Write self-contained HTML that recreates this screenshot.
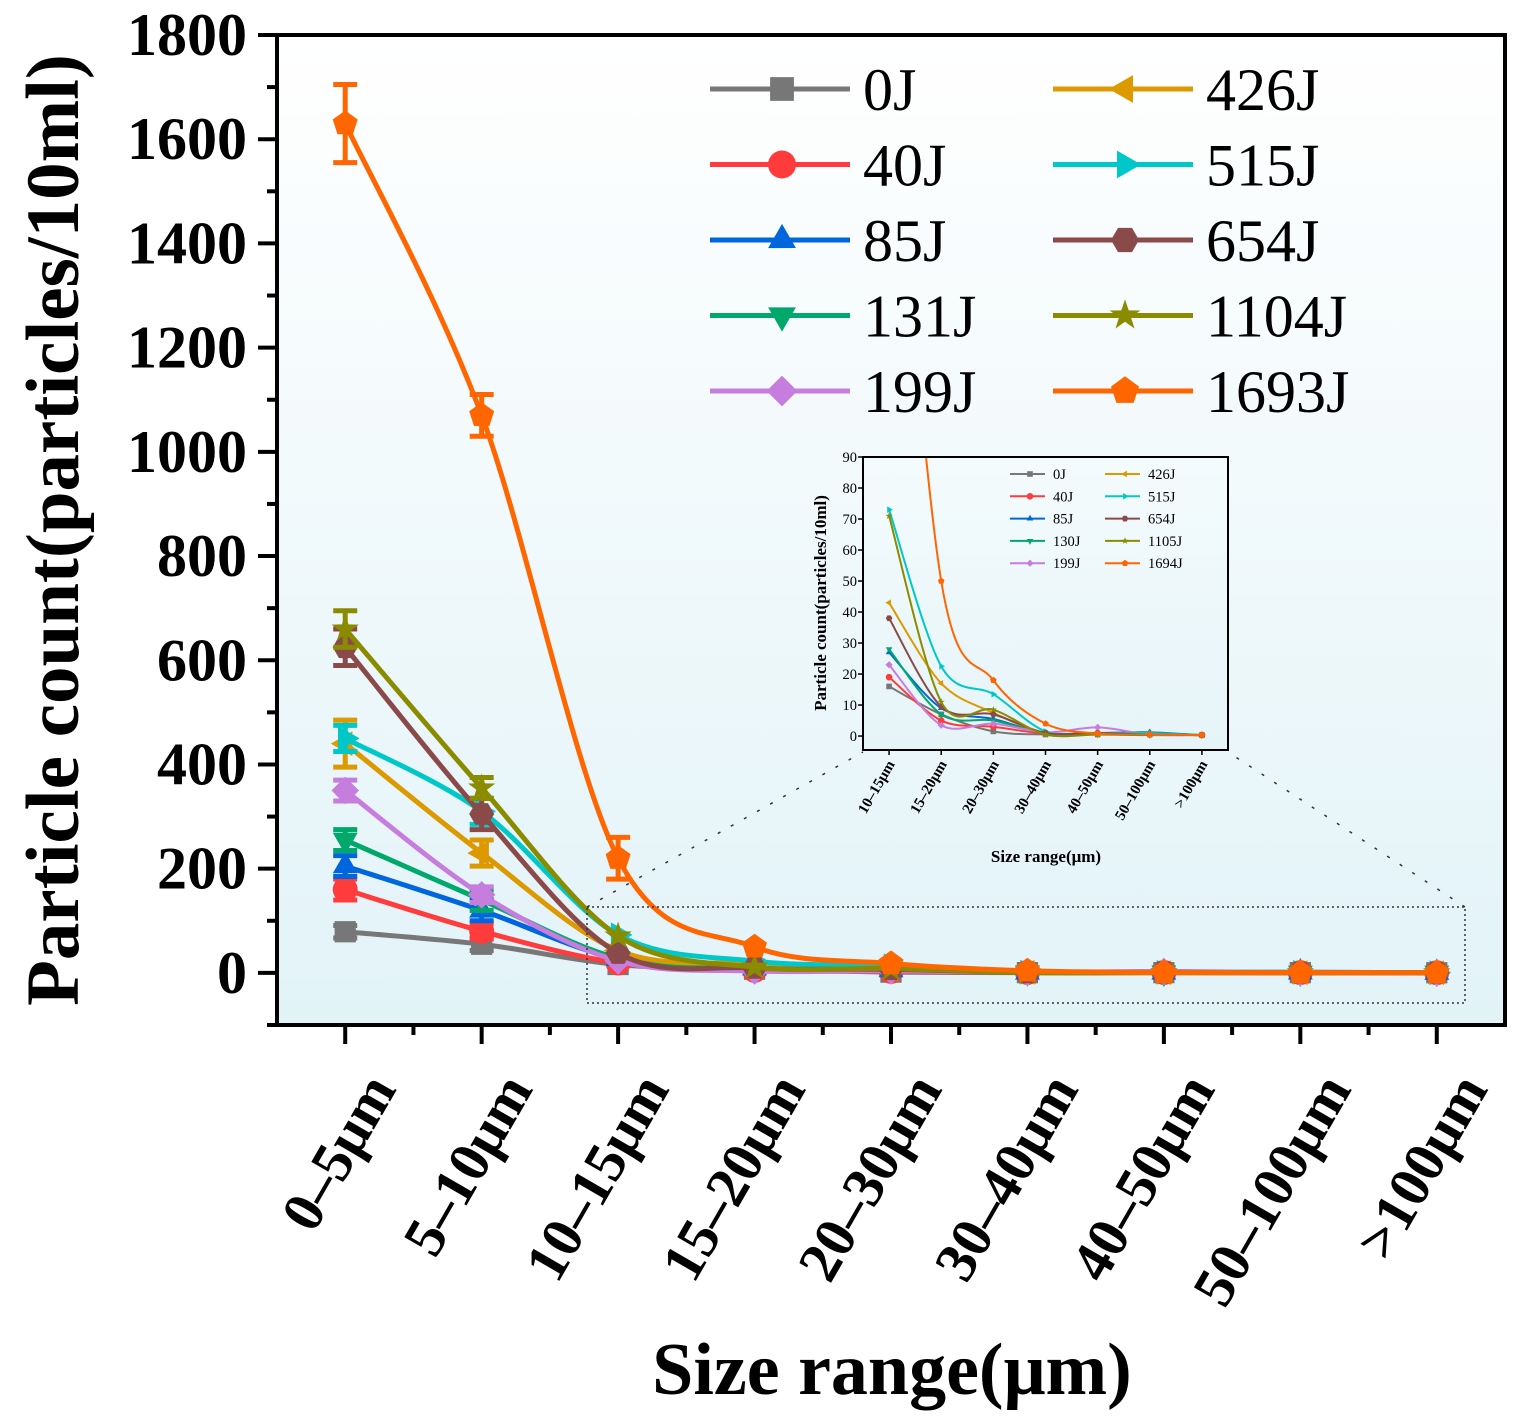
<!DOCTYPE html>
<html><head><meta charset="utf-8">
<style>
html,body{margin:0;padding:0;background:#fff;}
svg{display:block;font-family:"Liberation Serif",serif;}
</style></head>
<body>
<svg id="c" width="1526" height="1426" viewBox="0 0 1526 1426" xmlns="http://www.w3.org/2000/svg">
<defs>
<linearGradient id="bg" x1="0" y1="0" x2="0" y2="1">
<stop offset="0" stop-color="#ffffff"/><stop offset="1" stop-color="#e2f3f8"/>
</linearGradient>
<linearGradient id="bg2" x1="0" y1="0" x2="0" y2="1">
<stop offset="0" stop-color="#f4fbfd"/><stop offset="1" stop-color="#e6f4f8"/>
</linearGradient>
</defs>
</svg>
<script>
const categories=["0–5μm","5–10μm","10–15μm","15–20μm","20–30μm","30–40μm","40–50μm","50–100μm",">100μm"];
const insetCategories=["10–15μm","15–20μm","20–30μm","30–40μm","40–50μm","50–100μm",">100μm"];
const seriesNames=["0J","40J","85J","131J","199J","426J","515J","654J","1104J","1693J"];
const insetNames=["0J","40J","85J","130J","199J","426J","515J","654J","1105J","1694J"];
const s0J=[79,55,16,7,1.5,0.5,0.5,0.5,0.3];
const s40J=[160,80,19,5,3,0.8,0.8,0.5,0.3];
const s85J=[205,120,27,9,5.5,1,1,1.2,0.3];
const s131J=[255,140,28,7,5,1,0.5,0.3,0.3];
const s199J=[350,150,23,3.5,4,1.2,2.8,0.5,0.3];
const s426J=[440,230,43,17,7.5,1,0.5,0.5,0.3];
const s515J=[450,310,73,22.5,13.5,1.5,1,1,0.3];
const s654J=[625,305,38,9.5,7,1,1,0.5,0.3];
const s1104J=[660,355,71,11,8.5,0.5,0.5,0.5,0.3];
const s1693J=[1630,1070,220,50,18,4,0.8,0.5,0.3];
const errors0to3=[[12,12],[20,15],[20,20],[20,20],[20,15],[45,25],[25,25],[35,30],[35,20],[75,40,40]];
const yTicks=[0,200,400,600,800,1000,1200,1400,1600,1800];
const insetYTicks=[0,10,20,30,40,50,60,70,80,90];
const allSeries=[s0J,s40J,s85J,s131J,s199J,s426J,s515J,s654J,s1104J,s1693J];
const colors=["#777777","#ff3b3b","#0066dd","#00a86b","#c77ddd","#dd9900","#00c8c8","#8b4a4a","#8b8b00","#ff6600"];
const shapes=["square","circle","up","down","diamond","left","right","hex","star","pent"];

const svg=document.getElementById('c');
const NS="http://www.w3.org/2000/svg";
function mk(tag,attrs,parent){const e=document.createElementNS(NS,tag);for(const k in attrs)e.setAttribute(k,attrs[k]);(parent||svg).appendChild(e);return e;}

const X0=277,X1=1505,Y0=35,Y1=1025;
const xs=i=>X0+(i+0.5)*(X1-X0)/9;
const ys=v=>Y1-(v+100)*(Y1-Y0)/1900;
const IX0=863,IX1=1228,IY0=457,IY1=750;
const ixs=i=>IX0+(i+0.5)*(IX1-IX0)/7;
const iys=v=>IY1-(v+4.5)*(IY1-IY0)/94.5;

function markerPath(shape,cx,cy,r){
  const pts=(n,rot,rr)=>{let a=[];for(let k=0;k<n;k++){const t=rot+k*2*Math.PI/n;a.push((cx+rr*Math.cos(t)).toFixed(1)+","+(cy+rr*Math.sin(t)).toFixed(1));}return "M"+a.join("L")+"Z";};
  switch(shape){
    case "square":return `M${cx-r*0.85},${cy-r*0.85}h${1.7*r}v${1.7*r}h${-1.7*r}Z`;
    case "circle":return `M${cx-r},${cy}a${r},${r} 0 1,0 ${2*r},0a${r},${r} 0 1,0 ${-2*r},0Z`;
    case "up":return pts(3,-Math.PI/2,r*1.15);
    case "down":return pts(3,Math.PI/2,r*1.15);
    case "diamond":return pts(4,-Math.PI/2,r*1.1);
    case "left":return pts(3,Math.PI,r*1.15);
    case "right":return pts(3,0,r*1.15);
    case "hex":return pts(6,0,r);
    case "pent":return pts(5,-Math.PI/2,r*1.05);
    case "star":{let a=[];for(let k=0;k<10;k++){const t=-Math.PI/2+k*Math.PI/5;const rr=k%2?r*0.45:r*1.15;a.push((cx+rr*Math.cos(t)).toFixed(1)+","+(cy+rr*Math.sin(t)).toFixed(1));}return "M"+a.join("L")+"Z";}
  }
}
function smooth(p){
  let d=`M${p[0][0]},${p[0][1]}`;
  for(let i=0;i<p.length-1;i++){
    const p0=p[i-1]||p[i],p1=p[i],p2=p[i+1],p3=p[i+2]||p2;
    const t=0.16;
    d+=`C${p1[0]+(p2[0]-p0[0])*t},${p1[1]+(p2[1]-p0[1])*t} ${p2[0]-(p3[0]-p1[0])*t},${p2[1]-(p3[1]-p1[1])*t} ${p2[0]},${p2[1]}`;
  }
  return d;
}

const bgm=mk('rect',{x:X0,y:Y0,width:X1-X0,height:Y1-Y0,fill:"url(#bg)"});



allSeries.forEach((s,si)=>{
  const g=mk('g',{});
  
  
  const p=s.map((v,i)=>[xs(i),ys(v)]);
  const ln=mk('path',{d:smooth(p),fill:"none",stroke:colors[si],"stroke-width":5},g);
  
  
  s.forEach((v,i)=>{
    const e=(errors0to3[si][i]);
    if(e){
      const x=xs(i),a=ys(v+e),b=ys(v-e);
      mk('path',{d:`M${x},${a}V${b}M${x-12},${a}h24M${x-12},${b}h24`,stroke:colors[si],"stroke-width":5,fill:"none"},g);
    }
    const m=mk('path',{d:markerPath(shapes[si],xs(i),ys(v),12.5),fill:colors[si]},g);
    
    
  });
});

mk('rect',{x:X0,y:Y0,width:X1-X0,height:Y1-Y0,fill:"none",stroke:"#000","stroke-width":4});

yTicks.forEach(v=>{
  const y=ys(v);
  mk('line',{x1:X0-19,x2:X0,y1:y,y2:y,stroke:"#000","stroke-width":4});
  const t=mk('text',{x:X0-30,y:y+20,"text-anchor":"end","font-size":60,"font-weight":"bold"});
  t.textContent=v;
  
  
  const ym=ys(v-100);
  if(ym<Y1-1) mk('line',{x1:X0-10,x2:X0,y1:ym,y2:ym,stroke:"#000","stroke-width":4});
});
categories.forEach((c,i)=>{
  const x=xs(i);
  mk('line',{x1:x,x2:x,y1:Y1,y2:Y1+19,stroke:"#000","stroke-width":4});
  const xm=x+(X1-X0)/18;
  if(xm<X1-1) mk('line',{x1:xm,x2:xm,y1:Y1,y2:Y1+10,stroke:"#000","stroke-width":4});
  const t=mk('text',{transform:`translate(${x+52},${Y1+64}) rotate(-60)`,"text-anchor":"end","font-size":58,"font-weight":"bold"});
  t.textContent=c;
  
  
});
mk('line',{x1:X0-10,x2:X0,y1:Y1,y2:Y1,stroke:"#000","stroke-width":4});

const yt=mk('text',{transform:"translate(78,530) rotate(-90)","text-anchor":"middle","font-size":75,"font-weight":"bold"});
yt.textContent="Particle count(particles/10ml)";


const xt=mk('text',{x:892,y:1394,"text-anchor":"middle","font-size":74,"font-weight":"bold"});
xt.textContent="Size range(μm)";



const lg=mk('g',{});


seriesNames.forEach((n,si)=>{
  const col=Math.floor(si/5),row=si%5;
  const lx=710+col*343,ly=89+row*75.5;
  const e=mk('g',{},lg);
  
  
  mk('line',{x1:lx,x2:lx+140,y1:ly,y2:ly,stroke:colors[si],"stroke-width":5},e);
  mk('path',{d:markerPath(shapes[si],lx+72,ly,14),fill:colors[si]},e);
  const t=mk('text',{x:lx+153,y:ly+21,"font-size":60},e);
  t.textContent=n;
});

const zr=mk('rect',{x:587,y:907,width:878,height:96,fill:"none",stroke:"#333","stroke-width":1.5,"stroke-dasharray":"2,3"});


mk('line',{x1:587,y1:907,x2:863,y2:752,stroke:"#333","stroke-width":1.5,"stroke-dasharray":"3,12"});
mk('line',{x1:1465,y1:907,x2:1228,y2:752,stroke:"#333","stroke-width":1.5,"stroke-dasharray":"3,12"});

const ig=mk('g',{});


mk('rect',{x:IX0,y:IY0,width:IX1-IX0,height:IY1-IY0,fill:"url(#bg2)"},ig);
const clip=mk('clipPath',{id:"ic"},ig);
mk('rect',{x:IX0,y:IY0,width:IX1-IX0,height:IY1-IY0},clip);
const ic=mk('g',{"clip-path":"url(#ic)"},ig);
allSeries.forEach((s,si)=>{
  const sub=s.slice(2);
  const p=sub.map((v,i)=>[ixs(i),iys(v)]);
  const ln=mk('path',{d:smooth(p),fill:"none",stroke:colors[si],"stroke-width":2},ic);
  
  
  sub.forEach((v,i)=>{mk('path',{d:markerPath(shapes[si],ixs(i),iys(v),3.3),fill:colors[si]},ic);});
});
mk('rect',{x:IX0,y:IY0,width:IX1-IX0,height:IY1-IY0,fill:"none",stroke:"#000","stroke-width":2},ig);
insetYTicks.forEach(v=>{
  const y=iys(v);
  mk('line',{x1:IX0-5,x2:IX0,y1:y,y2:y,stroke:"#000","stroke-width":1.5},ig);
  const t=mk('text',{x:IX0-6,y:y+5,"text-anchor":"end","font-size":14.5},ig);
  t.textContent=v;
});
insetCategories.forEach((c,i)=>{
  const x=ixs(i);
  mk('line',{x1:x,x2:x,y1:IY1,y2:IY1+5,stroke:"#000","stroke-width":1.5},ig);
  const t=mk('text',{transform:`translate(${x+6},${IY1+14}) rotate(-60)`,"text-anchor":"end","font-size":15,"font-weight":"bold"},ig);
  t.textContent=c;
});
const iyt=mk('text',{transform:"translate(826,603) rotate(-90)","text-anchor":"middle","font-size":17,"font-weight":"bold"},ig);
iyt.textContent="Particle count(particles/10ml)";
const ixt=mk('text',{x:1046,y:862,"text-anchor":"middle","font-size":17,"font-weight":"bold"},ig);
ixt.textContent="Size range(μm)";
insetNames.forEach((n,si)=>{
  const col=Math.floor(si/5),row=si%5;
  const lx=1010+col*95,ly=474+row*22.3;
  const e=mk('g',{},ig);
  
  
  mk('line',{x1:lx,x2:lx+35,y1:ly,y2:ly,stroke:colors[si],"stroke-width":2},e);
  mk('path',{d:markerPath(shapes[si],lx+20,ly,3.3),fill:colors[si]},e);
  const t=mk('text',{x:lx+43,y:ly+5,"font-size":14.5},e);
  t.textContent=n;
});
</script>
</body></html>
